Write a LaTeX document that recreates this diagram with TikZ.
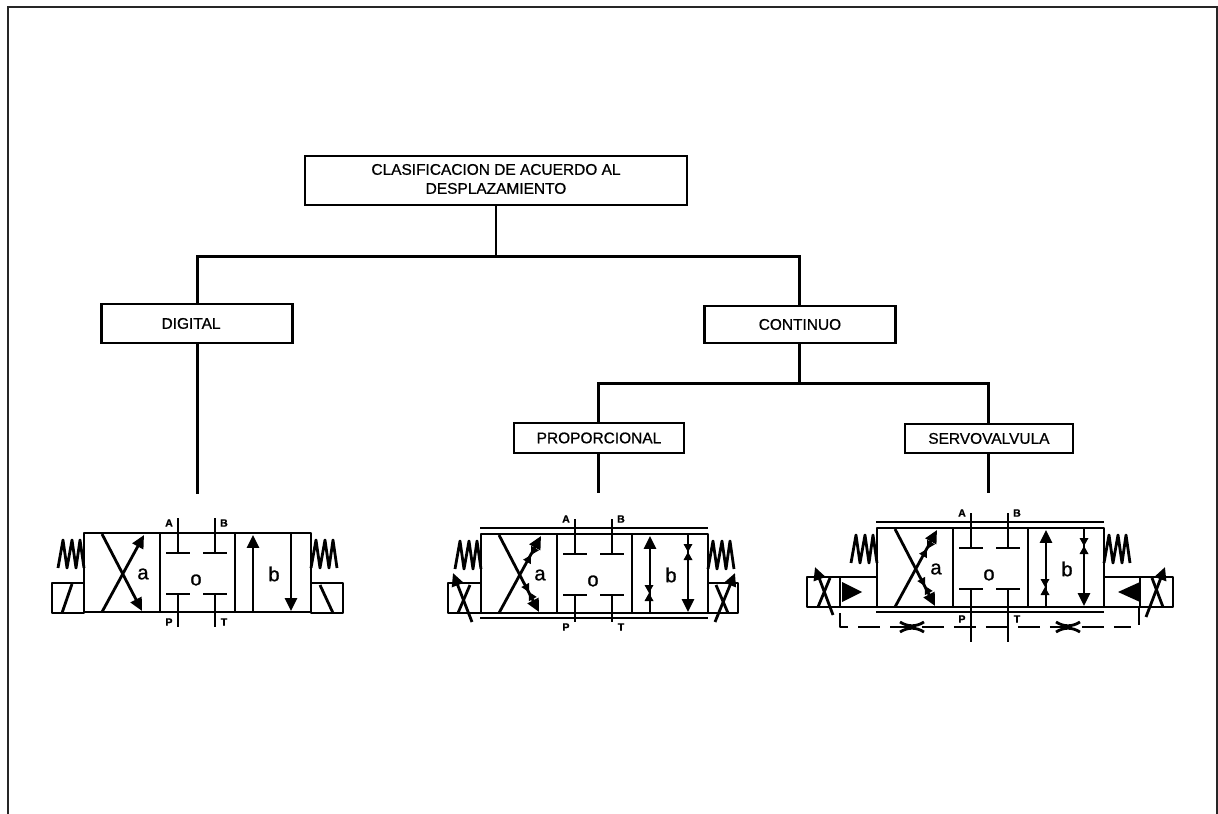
\documentclass[tikz,border=0pt]{standalone}
\usepackage{fontspec}
\setmainfont{Liberation Sans}[FakeBold=0.8]
\usetikzlibrary{positioning,arrows.meta}
\tikzset{
    classbox/.style={
        rectangle,
        draw=black,
        line width=1.5pt,
        outer sep=0pt,
        inner sep=0pt,
        align=center,
        font=\fontsize{8.8}{10.8}\selectfont
    },
    treeline/.style={line width=1.7pt},
    vline/.style={line width=1.6pt,line join=round},
    vtip/.style={-{Triangle[length=0.26cm,width=0.24cm]}},
    portlabel/.style={inner sep=0pt,font=\fontsize{6}{7}\selectfont\bfseries},
    celllabel/.style={inner sep=0pt,font=\fontsize{11.5}{13}\selectfont},
    pics/throttle/.style={code={
        \fill (-8,-4.5) -- (8,4.5) -- (8,-4.5) -- (-8,4.5) -- cycle;
    }},
    pics/restrictor/.style={code={
        \draw[vline] (-12,-5) .. controls (-4,0) and (4,0) .. (12,-5);
        \draw[vline] (-12,5) .. controls (-4,0) and (4,0) .. (12,5);
    }},
    pics/throttleset/.style={code={
        \pic[rotate=60] at (50,21) {throttle};
        \pic[rotate=-62] at (48,58) {throttle};
        \pic[rotate=90] at (168,59) {throttle};
        \pic[rotate=90] at (207,18) {throttle};
        \draw[line width=1.5pt] (-1,-6) -- (227,-6) (-1,84) -- (227,84);
    }},
    pics/valve/.style 2 args={code={
        % body
        \draw[vline] (0,0) rectangle (227,79);
        \draw[vline] (76,0) -- (76,79) (151,0) -- (151,79);
        % arrows
        \draw[vline,vtip] (18,1) -- (58,78);
        \draw[vline,vtip] (18,79) -- (60,2);
        \draw[vline,vtip] (169,79) -- (169,2);
        \draw[vline,vtip] (207,0) -- (207,78);
        % ports
        \coordinate (-A) at (94,20);
        \coordinate (-B) at (131,20);
        \coordinate (-P) at (94,61);
        \coordinate (-T) at (131,61);
        \draw[vline] (82,20) -- (106,20) (119,20) -- (143,20);
        \draw[vline] (82,61) -- (106,61) (119,61) -- (143,61);
        \draw[vline] (-A) -- (94,-15) (-B) -- (131,-15);
        \node[portlabel] (-la) at (85,#1) {A};
        \node[portlabel] (-lb) at (140,#1) {B};
        \node[portlabel] (-lp) at (85,#2) {P};
        \node[portlabel] (-lt) at (140,#2) {T};
        % cells
        \node[celllabel] (-ca) at (59,41) {a};
        \node[celllabel] (-co) at (112,47) {o};
        \node[celllabel] (-cb) at (190,41) {b};
        % springs
        \draw[vline] (-26,35) -- (-21,7) -- (-17,35) -- (-12,7) -- (-8,35) -- (-4,7) -- (0,35);
        \draw[vline] (227,35) -- (232,7) -- (236,35) -- (241,7) -- (245,35) -- (249,7) -- (253,35);
    }}
}
\begin{document}
\begin{tikzpicture}[x=0.02cm,y=-0.02cm]
\useasboundingbox (0,0) rectangle (1218,814);
% Frame
\draw[line width=1.1pt,black!85] (8,814) -- (8,7) -- (1217,7) -- (1217,814);

% Classification tree
\node[classbox, minimum width=7.64cm, minimum height=0.98cm] (root) at (496,180.5) {\raisebox{1.2pt}{\begin{tabular}{@{}c@{}}CLASIFICACION DE ACUERDO AL\\DESPLAZAMIENTO\end{tabular}}};
\node[classbox, minimum width=3.82cm, minimum height=0.78cm, below=1.98cm of root, xshift=-5.98cm] (digital) {\hspace*{-0.24cm}DIGITAL};
\node[classbox, minimum width=3.82cm, minimum height=0.74cm, below=2.02cm of root, xshift=6.08cm] (continuo) {CONTINUO};
\node[classbox, minimum width=3.4cm, minimum height=0.6cm, below=1.6cm of continuo, xshift=-4.02cm] (proporcional) {PROPORCIONAL};
\node[classbox, minimum width=3.36cm, minimum height=0.58cm, below=1.62cm of continuo, xshift=3.78cm] (servo) {SERVOVALVULA};

\coordinate[below=1.04cm of root] (split-root);
\coordinate[below=0.82cm of continuo] (split-continuo);
\coordinate[below=3.02cm of digital] (digital-end);
\coordinate[below=0.8cm of proporcional] (proporcional-end);
\coordinate[below=0.8cm of servo] (servo-end);

\draw[treeline] (root.south) -- (split-root);
\draw[treeline] (digital.north) |- (split-root) -| (continuo.north);
\draw[treeline] (continuo.south) -- (split-continuo);
\draw[treeline] (proporcional.north) |- (split-continuo) -| (servo.north);
\draw[treeline] (digital.south) -- (digital-end);
\draw[treeline] (proporcional.south) -- (proporcional-end);
\draw[treeline] (servo.south) -- (servo-end);

% Digital valve
\pic (dig) at (84,533) {valve={-10}{89}};
\draw[vline] (dig-P) -- ++(0,33);
\draw[vline] (dig-T) -- ++(0,33);
\draw[vline] (52,583) rectangle (84,613);
\draw[vline] (62,613) -- (72,584);
\draw[vline] (311,583) rectangle (343,613);
\draw[vline] (320,585) -- (333,613);

% Proportional valve
\pic (pro) at (481,534) {valve={-15}{93}};
\pic at (481,534) {throttleset};
\draw[vline] (pro-P) -- ++(0,27);
\draw[vline] (pro-T) -- ++(0,27);
\draw[vline] (448,583) rectangle (481,613);
\draw[vline,vtip] (472,622) -- (453,573);
\draw[vline] (458,613) -- (470,585);
\draw[vline] (708,583) rectangle (738,613);
\draw[vline,vtip] (715,622) -- (735,573);
\draw[vline] (716,585) -- (728,613);

% Servo valve
\pic (ser) at (877,528) {valve={-15}{91}};
\pic at (877,528) {throttleset};
\draw[vline] (ser-P) -- ++(0,53);
\draw[vline] (ser-T) -- ++(0,53);
\draw[vline] (807,577) rectangle (877,607);
\draw[vline] (840,577) -- (840,607);
\draw[vline,vtip] (833,615) -- (815,567);
\draw[vline] (818,607) -- (830,578);
\fill (842,582) -- (862,592) -- (842,602) -- cycle;
\draw[vline] (1104,577) rectangle (1173,607);
\draw[vline] (1140,577) -- (1140,607);
\draw[vline,vtip] (1146,617) -- (1165,567);
\draw[vline] (1152,578) -- (1163,607);
\fill (1140,582) -- (1118,592) -- (1140,602) -- cycle;
% Pilot line
\draw[vline] (840,613) -- (840,627) -- (848,627);
\draw[vline] (1139,607) -- (1139,625);
\draw[vline,dash pattern=on 0.44cm off 0.2cm] (858,627) -- (1131,627);
\pic at (912,627) {restrictor};
\pic at (1068,627) {restrictor};
\end{tikzpicture}
\end{document}
